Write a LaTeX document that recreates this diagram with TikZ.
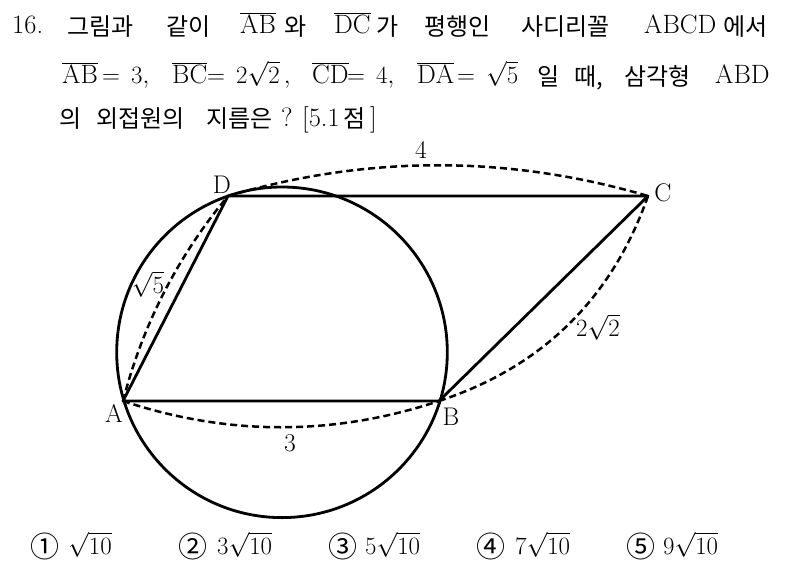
\documentclass[tikz,border=0pt]{standalone}
\usepackage{fontspec}
\newfontfamily\kr{Noto Sans CJK KR}
\begin{document}
\begin{tikzpicture}[x=1pt,y=-1pt,
  txt/.style={inner sep=0pt, anchor=base west, font=\fontsize{26.5}{30}\selectfont},
  kor/.style={inner sep=0pt, anchor=base west, font=\kr\fontsize{24}{28}\selectfont},
  num/.style={inner sep=0pt, anchor=base west, font=\kr\fontsize{29}{32}\selectfont},
  lbl/.style={inner sep=0pt, font=\fontsize{25.5}{30}\selectfont},
  edge/.style={line width=2.8pt, line join=round},
  dashedarc/.style={line width=2.5pt, dash pattern=on 7pt off 4pt},
  circ/.style={line width=2.8pt}]
\useasboundingbox (0,0) rectangle (787,573);
% ---- question text ----
\node[txt] (n16) at (12,33) {16.};
\node[kor] (w1) at (67,35) {그림과};
\node[kor] (w2) at (166,35) {같이};
\node[txt] (w3) at (240,33) {$\overline{\mathrm{AB}}$};
\node[kor] (w4) at (284,35) {와};
\node[txt] (w5) at (334,33) {$\overline{\mathrm{DC}}$};
\node[kor] (w6) at (376,35) {가};
\node[kor] (w7) at (424,35) {평행인};
\node[kor] (w8) at (521,35) {사디리꼴};
\node[txt] (w9) at (644,33) {ABCD};
\node[kor] (w10) at (723,35) {에서};
% line 2
\node[txt] (l2a) at (62,83) {$\overline{\mathrm{AB}}$};
\node[txt] (l2b) at (102,83) {$=\,3,$};
\node[txt] (l2c) at (172,83) {$\overline{\mathrm{BC}}$};
\node[txt] (l2d) at (207,83) {$=\,2\sqrt{2}\,,$};
\node[txt] (l2e) at (312,83) {$\overline{\mathrm{CD}}$};
\node[txt] (l2f) at (347,83) {$=\,4,$};
\node[txt] (l2g) at (417,83) {$\overline{\mathrm{DA}}$};
\node[txt] (l2h) at (457,83) {$=\,\sqrt{5}$};
\node[kor] (l2i) at (537,85) {일};
\node[kor] (l2j) at (574,85) {때,};
\node[kor] (l2k) at (624,85) {삼각형};
\node[txt] (l2l) at (715,83) {ABD};
% line 3
\node[kor] (l3a) at (59,127) {의};
\node[kor] (l3b) at (96,127) {외접원의};
\node[kor] (l3c) at (206,127) {지름은};
\node[txt] (l3d) at (281,126) {?};
\node[txt] (l3e) at (302,126) {[5.1};
\node[kor] (l3f) at (343,127) {점};
\node[txt] (l3g) at (370,126) {]};
% ---- figure ----
\coordinate (A) at (123,401);
\coordinate (B) at (439,401);
\coordinate (C) at (648,196);
\coordinate (D) at (228,196);
\coordinate (O) at (282,352.3);
\draw[circ] (O) circle[radius=165.3pt];
\draw[edge] (A) -- (B) -- (C) -- (D) -- cycle;
\draw[dashedarc] (A) .. controls (228,436) and (334,436) .. (B);
\draw[dashedarc] (D) .. controls (368,155) and (508,155) .. (C);
\draw[dashedarc] (A) .. controls (142.6,324.8) and (177.6,256.4) .. (D);
\draw[dashedarc] (B) .. controls (542.3,367) and (612,298.6) .. (C);
\node[lbl] (lA) at (114,413) {A};
\node[lbl] (lB) at (451,417) {B};
\node[lbl] (lC) at (663,193) {C};
\node[lbl] (lD) at (222,185) {D};
\node[lbl] (l3) at (290,443) {3};
\node[lbl] (l4) at (421,150) {4};
\node[lbl] (l5) at (148,284) {$\sqrt{5}$};
\node[lbl] (l22) at (598,327) {$2\sqrt{2}$};
% ---- choices ----
\node[num] (c1) at (30,557) {①};
\node[txt] (c1v) at (68,554) {$\sqrt{10}$};
\node[num] (c2) at (178,557) {②};
\node[txt] (c2v) at (217,554) {$3\sqrt{10}$};
\node[num] (c3) at (328,557) {③};
\node[txt] (c3v) at (365,554) {$5\sqrt{10}$};
\node[num] (c4) at (476,557) {④};
\node[txt] (c4v) at (515,554) {$7\sqrt{10}$};
\node[num] (c5) at (626,557) {⑤};
\node[txt] (c5v) at (663,554) {$9\sqrt{10}$};
\end{tikzpicture}
\end{document}
